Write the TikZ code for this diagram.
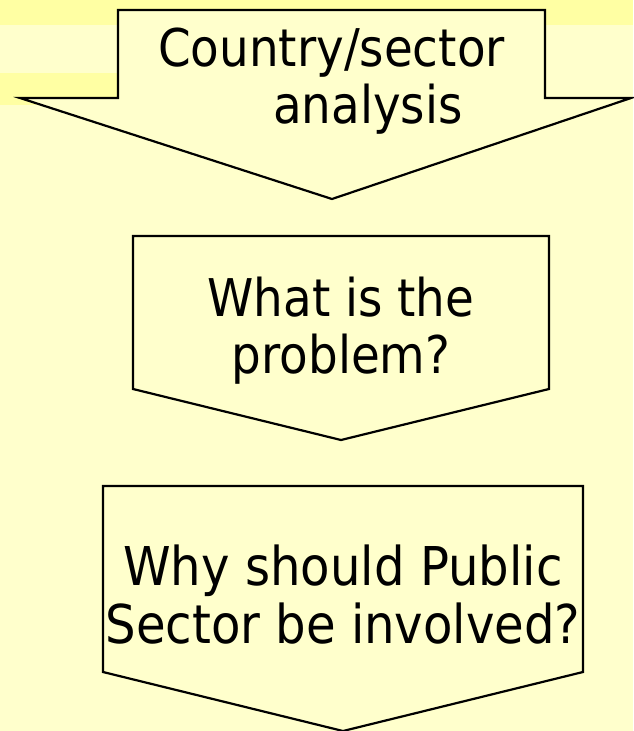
\documentclass[tikz,border=0pt]{standalone}
\usepackage{fontspec}
\setmainfont{DejaVu Sans}[FakeStretch=0.9]
\definecolor{slidebg}{HTML}{FFFFCC}
\definecolor{slideband}{HTML}{FFFFA3}
\tikzset{
  flowbox/.style={draw=black,fill=slidebg,line width=2.2pt,line join=miter},
  flowtext/.style={inner sep=0pt,align=center,font=\fontsize{52}{57}\selectfont}
}
\begin{document}
\begin{tikzpicture}[x=1pt,y=-1pt]
\fill[slidebg] (0,0) rectangle (633,731);
\useasboundingbox (0,0) rectangle (633,731);
\fill[slideband] (0,0) rectangle (633,25);
\fill[slideband] (0,73) rectangle (118,105);
\draw[flowbox] (118,10)--(545,10)--(545,98)--(631,98)--(332,199)--(20,98)--(118,98)--cycle;
\node[flowtext] (country) at (331.5,81.5) {Country/sector\\\hspace*{1.4em}analysis};
\draw[flowbox] (133,236)--(549,236)--(549,389)--(341,440)--(133,389)--cycle;
\node[flowtext] (problem) at (341,330.5) {What is the\\problem?};
\draw[flowbox] (103,486)--(583,486)--(583,672)--(343,731)--(103,672)--cycle;
\node[flowtext,font=\fontsize{53.5}{58}\selectfont] (public) at (343,595) {Why should Public\\Sector be involved?};
\end{tikzpicture}
\end{document}
